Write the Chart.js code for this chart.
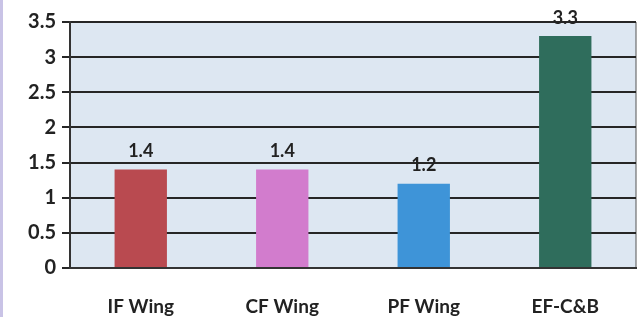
<!DOCTYPE html>
<html>
<head>
<meta charset="utf-8">
<script src="https://cdn.jsdelivr.net/npm/chart.js@4"></script>
<style>
  html, body { margin: 0; padding: 0; background: #ffffff; }
  #wrap { width: 639px; height: 317px; position: relative; box-sizing: border-box; border-left: 3px solid #c9c3e6; }
</style>
</head>
<body>
<div id="wrap"><canvas id="chart" width="636" height="317"></canvas></div>
<script>
let categories = ["IF Wing", "CF Wing", "PF Wing", "EF-C&B"];
let values = [1.4, 1.4, 1.2, 3.3];
let barColors = ["#b94a50", "#d27ccd", "#3e94d8", "#2f6d5c"];
let yTicks = [0, 0.5, 1, 1.5, 2, 2.5, 3, 3.5];

let fontFamily = "Lato, 'Open Sans', sans-serif";

// light blue plot background
let plotBg = {
  id: 'plotBg',
  beforeDraw(chart) {
    let a = chart.chartArea;
    let ctx = chart.ctx;
    ctx.save();
    ctx.fillStyle = '#dde7f2';
    ctx.fillRect(a.left, a.top, a.right - a.left, a.bottom - a.top);
    ctx.strokeStyle = '#555';
    ctx.lineWidth = 1;
    ctx.beginPath();
    ctx.moveTo(a.right, a.top);
    ctx.lineTo(a.right, a.bottom);
    ctx.stroke();
    ctx.restore();
  }
};

// value labels above the bars
let barLabels = {
  id: 'barLabels',
  afterDatasetsDraw(chart) {
    let ctx = chart.ctx;
    let meta = chart.getDatasetMeta(0);
    ctx.save();
    ctx.font = "bold 18px " + fontFamily;
    ctx.fillStyle = '#222';
    ctx.textAlign = 'center';
    ctx.textBaseline = 'bottom';
    meta.data.forEach(function(bar, i){
      ctx.fillText(String(values[i]), bar.x, bar.y - 9);
    });
    ctx.restore();
  }
};

new Chart(document.getElementById('chart'), {
  type: 'bar',
  data: {
    labels: categories,
    datasets: [{
      data: values,
      backgroundColor: barColors,
      borderWidth: 0,
      barPercentage: 0.74,
      categoryPercentage: 0.5
    }]
  },
  options: {
    responsive: false,
    animation: false,
    layout: { padding: { top: 22, right: 3, left: 0, bottom: 0 } },
    plugins: {
      legend: { display: false },
      tooltip: { enabled: false }
    },
    scales: {
      x: {
        grid: { display: false },
        border: { color: '#333', width: 2 },
        ticks: {
          color: '#222',
          padding: 19,
          font: { family: fontFamily, size: 19, weight: 'bold' }
        },
        afterFit(scale){ scale.height = 49; }
      },
      y: {
        min: 0,
        max: 3.5,
        afterBuildTicks(scale){ scale.ticks = yTicks.map(v => ({ value: v })); },
        grid: { color: '#262626', lineWidth: 2, tickLength: 8 },
        border: { color: '#333', width: 2 },
        ticks: {
          color: '#222',
          padding: 6,
          font: { family: fontFamily, size: 20, weight: 'bold' },
          callback: v => String(v)
        },
        afterFit(scale){ scale.width = 67; }
      }
    }
  },
  plugins: [plotBg, barLabels]
});
</script>
</body>
</html>
